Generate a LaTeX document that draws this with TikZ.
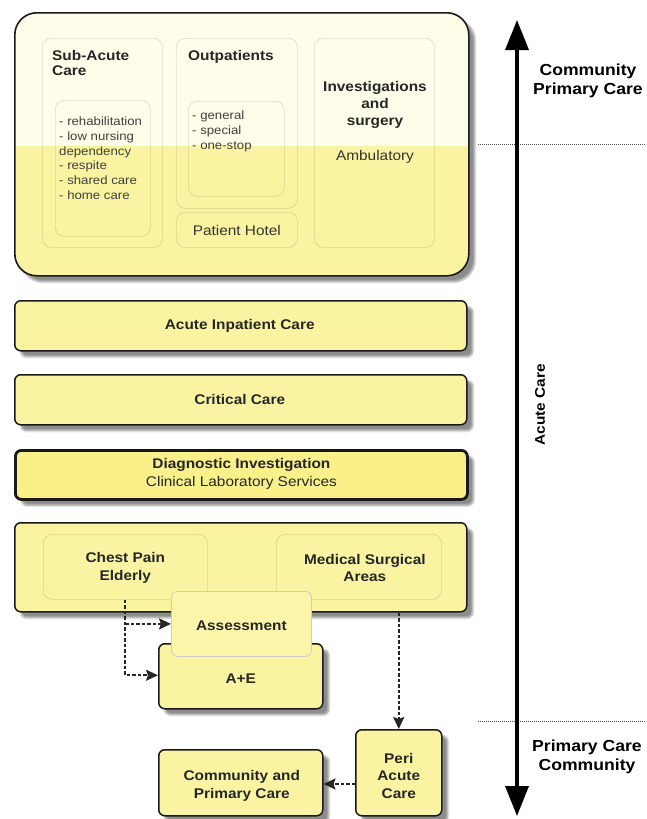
\documentclass[tikz,border=0pt]{standalone}
\usepackage{fontspec}
\setmainfont{Liberation Sans}[FakeStretch=1.1]
\usetikzlibrary{arrows.meta,shadows.blur,calc}

\definecolor{yel}{HTML}{FAF4A2}
\definecolor{pale}{HTML}{FEFDE9}
\definecolor{diag}{HTML}{F9F08A}

\tikzset{
  lbl/.style={font=\fontsize{14}{17.5}\selectfont\bfseries, align=center, text=black!85},
  reg/.style={font=\fontsize{14}{16}\selectfont, text=black!80},
  small/.style={font=\fontsize{12}{14.7}\selectfont, text=black!75, align=left},
  side/.style={font=\fontsize{16}{18.5}\selectfont\bfseries, align=center},
  shad/.style={blur shadow={shadow xshift=6pt, shadow yshift=-6pt, shadow opacity=45, shadow blur steps=6}},
  mainbox/.style={draw=black!90, line width=1.5pt, rounded corners=6pt, fill=yel, shad,
    anchor=north west, inner sep=0pt},
  subbox/.style={draw=black, draw opacity=0.13, line width=0.7pt, rounded corners=9pt,
    anchor=north west, inner sep=0pt},
  flow/.style={draw=black!85, line width=2pt, dash pattern=on 3.5pt off 2pt,
    -{Stealth[length=12pt,width=11pt,inset=2pt]}},
}

\begin{document}
\begin{tikzpicture}[x=1pt,y=-1pt]
\useasboundingbox (0,0) rectangle (646,819);

% upper block: two-tone background
\node[draw=black!90, line width=1.6pt, rounded corners=22pt, shad, anchor=north west,
  minimum width=454pt, minimum height=263pt, inner sep=0pt,
  path picture={
    \fill[pale, sharp corners] (path picture bounding box.north west) rectangle
      ([yshift=-133pt]path picture bounding box.north east);
    \fill[yel, sharp corners] ([yshift=-133pt]path picture bounding box.north west) rectangle
      (path picture bounding box.south east);
  }] (top) at (14,12) {};

% sub-acute care
\node[subbox, minimum width=120pt, minimum height=209pt] (subac) at (42,38) {};
\node[lbl, align=left, anchor=north west, inner sep=0pt, font=\fontsize{14}{15.5}\selectfont\bfseries] (subact) at (52,50) {Sub-Acute\\Care};
\node[subbox, minimum width=95pt, minimum height=136pt] (sublist) at (55,100) {};
\node[small, anchor=north west, inner sep=0pt] (sublistt) at (59,117)
  {- rehabilitation\\- low nursing\\dependency\\- respite\\- shared care\\- home care};

% outpatients
\node[subbox, minimum width=121pt, minimum height=170pt] (outp) at (176,38) {};
\node[lbl, anchor=north west, inner sep=0pt] (outpt) at (188,50) {Outpatients};
\node[subbox, minimum width=96pt, minimum height=95pt] (outlist) at (188,101) {};
\node[small, anchor=north west, inner sep=0pt] (outlistt) at (192,111)
  {- general\\- special\\- one-stop};
\node[subbox, minimum width=121pt, minimum height=35pt] (hotel) at (176,212) {};
\node[reg] at ($(hotel.center)+(0,1)$) {Patient Hotel};

% investigations and surgery
\node[subbox, minimum width=120pt, minimum height=209pt] (invest) at (314,38) {};
\node[lbl, font=\fontsize{14}{17}\selectfont\bfseries] (investt) at (375,105)
  {Investigations\\and\\surgery};
\node[reg] (amb) at (375,157) {Ambulatory};

% horizontal bands
\node[mainbox, minimum width=452pt, minimum height=50pt] (inpat) at (14,300) {};
\node[lbl] at ($(inpat.center)+(-1,0)$) {Acute Inpatient Care};
\node[mainbox, minimum width=452pt, minimum height=50pt] (crit) at (14,374) {};
\node[lbl] at ($(crit.center)+(-1,0)$) {Critical Care};
\node[mainbox, line width=2.8pt, fill=diag, minimum width=452pt, minimum height=49pt] (diagn) at (14,449) {};
\node[lbl] at ($(diagn.center)+(0,-1)$)
  {\bfseries Diagnostic Investigation\\\mdseries Clinical Laboratory Services};

% acute admissions block
\node[mainbox, minimum width=452pt, minimum height=89pt] (adm) at (14,522) {};
\node[subbox, minimum width=164pt, minimum height=65pt] (chest) at (43,534) {};
\node[lbl] at ($(chest.center)+(0,1)$) {Chest Pain\\Elderly};
\node[subbox, minimum width=165pt, minimum height=65pt] (med) at (276,534) {};
\node[lbl] at ($(med.center)+(6,1)$) {Medical Surgical\\Areas};

\node[mainbox, minimum width=164pt, minimum height=65pt] (ae) at (158,643) {};
\node[lbl] at ($(ae.center)+(0,2)$) {A+E};
\node[draw=black!20, line width=0.8pt, rounded corners=6pt, fill=yel!92!white,
  anchor=north west, inner sep=0pt, minimum width=140pt, minimum height=65pt] (assess) at (171,591) {};
\node[lbl] at ($(assess.center)+(0,2)$) {Assessment};

\node[mainbox, minimum width=86pt, minimum height=86pt] (peri) at (355,729) {};
\node[lbl] at ($(peri.center)+(0,3)$) {Peri\\Acute\\Care};
\node[mainbox, minimum width=164pt, minimum height=66pt] (comm) at (158,749) {};
\node[lbl] at ($(comm.center)+(1,3)$) {Community and\\Primary Care};

% flows
\draw[flow] (chest.south) |- ($(ae.west)+(0,-1)$);
\draw[flow] (chest.south |- assess.west) -- (assess.west);
\draw[flow] (peri.north |- adm.south) -- (peri.north);
\draw[flow] (peri.west |- 0,784) -- (comm.east |- 0,784);

% care-level scale
\draw[black!70, line width=0.6pt, dash pattern=on 1.2pt off 0.8pt] (478,144) -- (646,144);
\draw[black!70, line width=0.6pt, dash pattern=on 1.2pt off 0.8pt] (478,721) -- (646,721);
\coordinate (scaletop) at (517,20);
\coordinate (scalebot) at (517,816);
\draw[line width=3.5pt, {Triangle[width=23pt,length=30pt]}-{Triangle[width=23pt,length=30pt]}]
  (scaletop) -- (scalebot);

\node[side] (cpc) at (588,81) {Community\\Primary Care};
\node[side, rotate=90, font=\fontsize{14}{16}\selectfont\bfseries] (acute) at (540,405) {Acute Care};
\node[side] (pcc) at (587,757) {Primary Care\\Community};
\end{tikzpicture}
\end{document}
